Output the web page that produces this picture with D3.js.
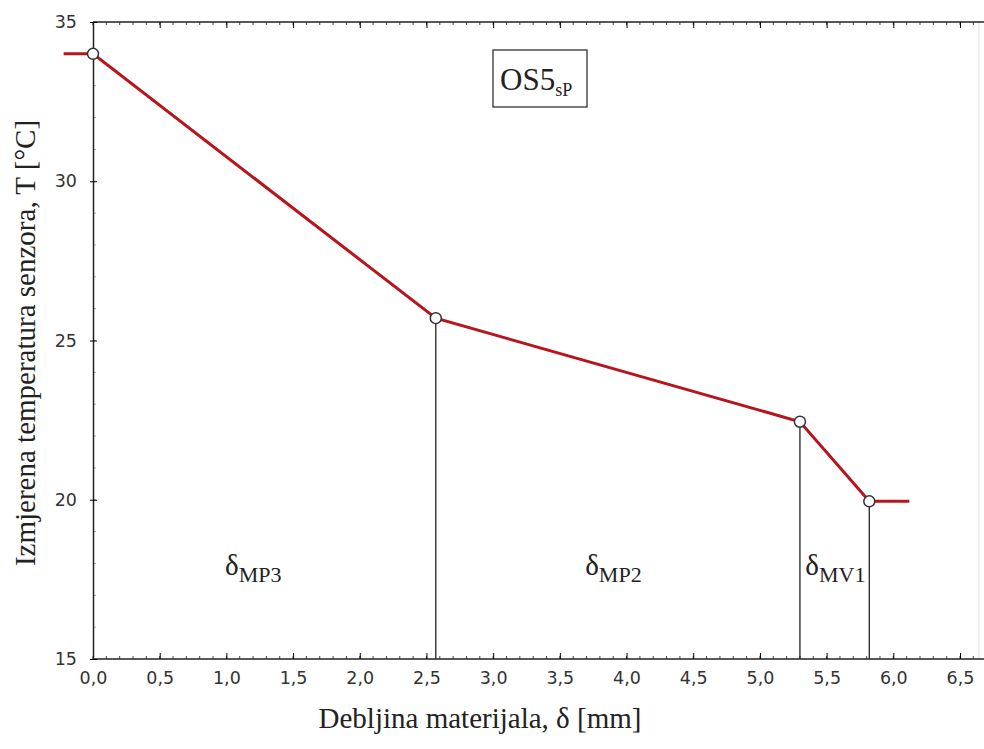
<!DOCTYPE html>
<html>
<head>
<meta charset="utf-8">
<script src="https://d3js.org/d3.v7.min.js"></script>
<style>
  body { margin: 0; background: #fff; }
</style>
</head>
<body>
<script>
  // line through the measured points (ends extend past the first and last point)
  var lineX = [-0.22, 0, 2.57, 5.3, 5.82, 6.12];
  var lineY = [34, 34, 25.7, 22.45, 19.95, 19.95];
  // measured points (circles + drop lines)
  var ptX = [0, 2.57, 5.3, 5.82];
  var ptY = [34, 25.7, 22.45, 19.95];
  // layer labels
  var layerNames = ["MP3", "MP2", "MV1"];
  var layerX = [0.99, 3.69, 5.34];
  var layerY = 17.65;
  var xTicks = [0, 0.5, 1, 1.5, 2, 2.5, 3, 3.5, 4, 4.5, 5, 5.5, 6, 6.5];
  var yTicks = [15, 20, 25, 30, 35];

  var width = 984, height = 749;
  var svg = d3.select("body").append("svg")
      .attr("width", width).attr("height", height);

  var x = d3.scaleLinear().domain([0, 6.5]).range([93, 960]);
  var y = d3.scaleLinear().domain([15, 35]).range([659, 22]);
  var fmt = function(d) { return d3.format(".1f")(d).replace(".", ","); };
  var sans = "DejaVu Sans, Verdana, sans-serif";
  var serif = "Liberation Serif, Times New Roman, serif";

  // faint right border
  svg.append("line")
      .attr("x1", 979).attr("x2", 979).attr("y1", 22).attr("y2", 659)
      .attr("stroke", "#e2e2e2").attr("stroke-width", 1);

  // minor ticks
  var minorX = d3.range(0, 6.85, 0.1);
  var minorY = d3.range(15, 35.01, 1);
  svg.append("g").selectAll("line").data(minorX).enter().append("line")
      .attr("x1", function(d){ return x(d); }).attr("x2", function(d){ return x(d); })
      .attr("y1", 659).attr("y2", 656).attr("stroke", "#444");
  svg.append("g").selectAll("line").data(minorX).enter().append("line")
      .attr("x1", function(d){ return x(d); }).attr("x2", function(d){ return x(d); })
      .attr("y1", 22).attr("y2", 25).attr("stroke", "#444");
  svg.append("g").selectAll("line").data(minorY).enter().append("line")
      .attr("x1", 93).attr("x2", 96)
      .attr("y1", function(d){ return y(d); }).attr("y2", function(d){ return y(d); })
      .attr("stroke", "#aaa");

  // bottom axis
  var xAxis = svg.append("g").attr("transform", "translate(0,659)")
      .call(d3.axisBottom(x).tickValues(xTicks).tickFormat(fmt).tickSizeInner(-6).tickSizeOuter(0).tickPadding(13));
  xAxis.select(".domain").attr("d", "M93,0H984").attr("stroke", "#222").attr("stroke-width", 1.5);
  xAxis.selectAll("text").attr("font-family", sans)
      .attr("font-size", 17.5).attr("fill", "#333");

  // top axis (ticks only)
  var topAxis = svg.append("g").attr("transform", "translate(0,22)")
      .call(d3.axisTop(x).tickValues(xTicks).tickFormat("").tickSizeInner(-6).tickSizeOuter(0));
  topAxis.select(".domain").attr("d", "M93,0H984").attr("stroke", "#222").attr("stroke-width", 1.5);

  // left axis
  var yAxis = svg.append("g").attr("transform", "translate(93,0)")
      .call(d3.axisLeft(y).tickValues(yTicks).tickSizeInner(5).tickSizeOuter(0).tickPadding(11));
  yAxis.selectAll(".tick line").attr("x2", 4).attr("x1", -3);
  yAxis.select(".domain").attr("stroke", "#222").attr("stroke-width", 1.5);
  yAxis.selectAll("text").attr("font-family", sans)
      .attr("font-size", 17.5).attr("fill", "#333");

  // drop lines
  svg.append("g").selectAll("line").data(ptX.slice(1)).enter().append("line")
      .attr("x1", function(d){ return x(d); }).attr("x2", function(d){ return x(d); })
      .attr("y1", function(d, i){ return y(ptY[i + 1]); }).attr("y2", y(15))
      .attr("stroke", "#222").attr("stroke-width", 1.3);

  // temperature line
  var pts = lineX.map(function(d, i){ return [d, lineY[i]]; });
  svg.append("path").datum(pts)
      .attr("d", d3.line().x(function(d){ return x(d[0]); }).y(function(d){ return y(d[1]); }))
      .attr("fill", "none").attr("stroke", "#b8141c").attr("stroke-width", 3);

  svg.append("g").selectAll("circle").data(ptX).enter().append("circle")
      .attr("cx", function(d){ return x(d); })
      .attr("cy", function(d, i){ return y(ptY[i]); })
      .attr("r", 5.5).attr("fill", "#fff").attr("stroke", "#333").attr("stroke-width", 1.5);

  // layer labels
  layerNames.forEach(function(n, i) {
    var t = svg.append("text")
        .attr("x", x(layerX[i])).attr("y", y(layerY))
        .attr("font-family", serif).attr("font-size", 29).attr("fill", "#222");
    t.append("tspan").text("δ");
    t.append("tspan").attr("dy", 7).attr("font-size", 22).text(n);
  });

  // OS5sP box
  svg.append("rect").attr("x", 493).attr("y", 50).attr("width", 94).attr("height", 57)
      .attr("fill", "#fff").attr("stroke", "#333").attr("stroke-width", 1.3);
  var lbl = svg.append("text").attr("x", 500).attr("y", 90)
      .attr("font-family", serif).attr("font-size", 31).attr("fill", "#222");
  lbl.append("tspan").text("OS5");
  lbl.append("tspan").attr("dy", 6).attr("font-size", 18).text("sP");

  // axis titles
  svg.append("text").attr("x", 480).attr("y", 728).attr("text-anchor", "middle")
      .attr("font-family", serif).attr("font-size", 29).attr("fill", "#222")
      .text("Debljina materijala, δ [mm]");
  svg.append("text").attr("transform", "translate(35,343) rotate(-90)")
      .attr("text-anchor", "middle")
      .attr("font-family", serif).attr("font-size", 29).attr("fill", "#222")
      .text("Izmjerena temperatura senzora, T [°C]");
</script>
</body>
</html>
